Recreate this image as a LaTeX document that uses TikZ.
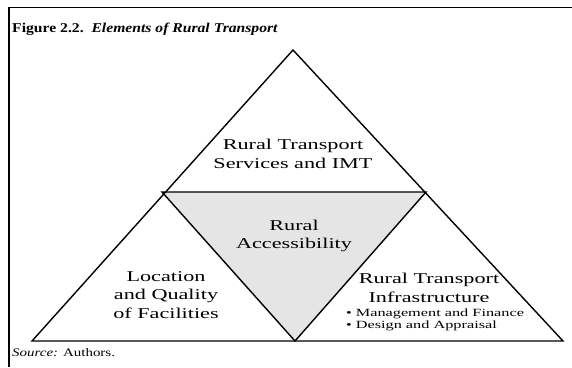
\documentclass[tikz,border=0pt]{standalone}
\usepackage{fontspec}
\setmainfont{Liberation Serif}
\newfontfamily\labelfont[FakeStretch=1.48]{Liberation Serif}
\usetikzlibrary{positioning}

\begin{document}
\begin{tikzpicture}[
x=1pt,y=-1pt,
edge/.style={
  draw,
  line width=1.4pt,
  line join=miter
},
lbl/.style={
  align=center,
  font=\labelfont\fontsize{15}{18.5}\selectfont,
  inner sep=0pt
},
small/.style={
  align=left,
  font=\labelfont\fontsize{11}{12}\selectfont,
  inner sep=0pt
}
]
\useasboundingbox (0,0) rectangle (572,367);

% frame
\draw[line width=1.4pt] (572,7.5) -- (9,7.5) -- (9,367);
\node[anchor=base west,inner sep=0pt,font=\fontsize{13.5}{15}\selectfont\bfseries] (title) at (12,32)
  {\addfontfeatures{FakeStretch=1.16}Figure 2.2.\ \ \textit{Elements of Rural Transport}};

% triangle corners
\coordinate (top) at (293,50);
\coordinate (ml) at (162,192);
\coordinate (mr) at (426,192);
\coordinate (bl) at (32,341);
\coordinate (bm) at (295,341);
\coordinate (br) at (563,341);

\fill[gray!20] (ml) -- (mr) -- (bm) -- cycle;
\draw[edge] (top) -- (br) -- (bl) -- cycle;
\draw[edge] (ml) -- (mr) -- (bm) -- cycle;

\node[lbl] (serv) at (293,154)
  {Rural Transport\\Services and IMT};
\node[lbl] (acc) at (294,236)
  {Rural\\Accessibility};
\node[lbl] (loc) at (166,295)
  {Location\\and Quality\\of Facilities};
\node[lbl] (infra) at (429,288)
  {Rural Transport\\Infrastructure};
\node[small,below=6pt of infra,xshift=6pt] (bul)
  {\textbullet\ Management and Finance\\\textbullet\ Design and Appraisal};

\node[anchor=base west,inner sep=0pt,font=\fontsize{11.5}{12}\selectfont] (src) at (12,356)
  {\addfontfeatures{FakeStretch=1.3}\textit{Source:} Authors.};
\end{tikzpicture}
\end{document}
